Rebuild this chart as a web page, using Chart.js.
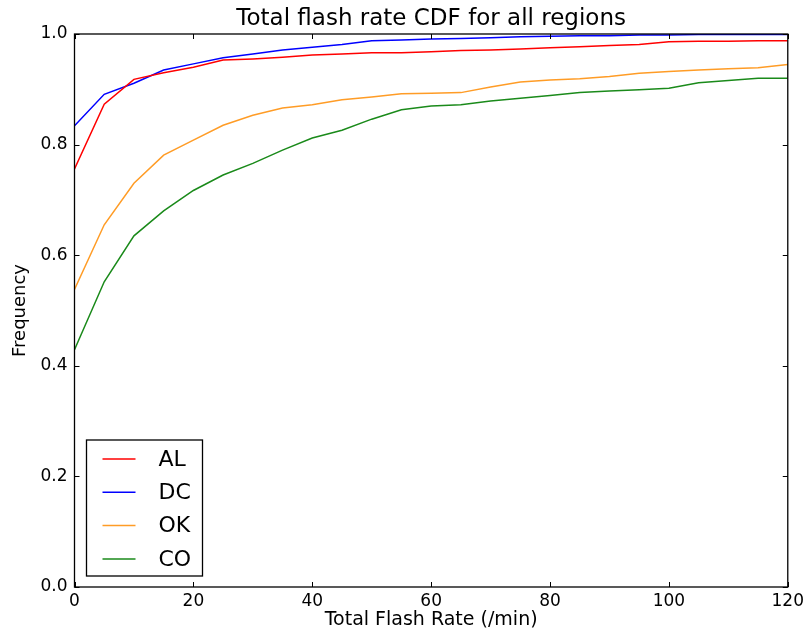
<!DOCTYPE html>
<html>
<head>
<meta charset="utf-8">
<script src="https://cdn.jsdelivr.net/npm/chart.js@4/dist/chart.umd.min.js"></script>
<style>
    html, body { margin: 0; padding: 0; background: #fff; }
    #wrap { width: 808px; height: 638px; }
</style>
</head>
<body>
<div id="wrap"><canvas id="cdf-chart" width="808" height="638"></canvas></div>
<script>
// Flash rate bins (/min) and CDF values per region
const flashRates = [0, 5, 10, 15, 20, 25, 30, 35, 40, 45, 50, 55, 60, 65, 70, 75, 80, 85, 90, 95, 100, 105, 110, 115, 120];
const cdfAL = [0.756, 0.873, 0.918, 0.930, 0.940, 0.953, 0.955, 0.958, 0.962, 0.964, 0.966, 0.966, 0.968, 0.970, 0.971, 0.973, 0.975, 0.977, 0.979, 0.981, 0.986, 0.987, 0.987, 0.988, 0.988];
const cdfDC = [0.834, 0.891, 0.911, 0.935, 0.946, 0.957, 0.964, 0.971, 0.976, 0.981, 0.988, 0.989, 0.991, 0.992, 0.993, 0.995, 0.996, 0.997, 0.997, 0.998, 0.998, 0.999, 0.999, 0.999, 0.999];
const cdfOK = [0.538, 0.655, 0.730, 0.781, 0.808, 0.835, 0.853, 0.866, 0.872, 0.881, 0.886, 0.892, 0.893, 0.894, 0.904, 0.913, 0.917, 0.919, 0.923, 0.929, 0.932, 0.935, 0.937, 0.939, 0.945];
const cdfCO = [0.429, 0.552, 0.635, 0.680, 0.717, 0.745, 0.766, 0.790, 0.812, 0.826, 0.846, 0.863, 0.870, 0.872, 0.879, 0.884, 0.889, 0.894, 0.897, 0.899, 0.902, 0.912, 0.916, 0.920, 0.920];
const regionLabels = ['AL', 'DC', 'OK', 'CO'];
const xTicks = [0, 20, 40, 60, 80, 100, 120];
const yTicks = [0.0, 0.2, 0.4, 0.6, 0.8, 1.0];
const chartTitle = 'Total flash rate CDF for all regions';

const FONT = "'DejaVu Sans', 'Liberation Sans', sans-serif";

function toPoints(values) {
    return values.map((v, i) => ({ x: flashRates[i], y: v }));
}

// title centred over the axes, like matplotlib does
const axesTitlePlugin = {
    id: 'axesTitle',
    afterDraw(chart) {
        const { ctx, chartArea: a } = chart;
        ctx.save();
        ctx.font = '23px ' + FONT;
        ctx.fillStyle = '#000';
        ctx.textAlign = 'center';
        ctx.textBaseline = 'alphabetic';
        ctx.fillText(chartTitle, (a.left + a.right) / 2, a.top - 9);
        ctx.restore();
    }
};

// matplotlib style frame with inward ticks on all four sides
const framePlugin = {
    id: 'frame',
    afterDatasetsDraw(chart) {
        const { ctx, chartArea: a, scales } = chart;
        const len = 5;
        ctx.save();
        ctx.strokeStyle = '#000';
        ctx.lineWidth = 1;
        ctx.beginPath();
        xTicks.forEach(t => {
            const px = Math.round(scales.x.getPixelForValue(t)) + 0.5;
            ctx.moveTo(px, a.bottom); ctx.lineTo(px, a.bottom - len);
            ctx.moveTo(px, a.top); ctx.lineTo(px, a.top + len);
        });
        yTicks.forEach(t => {
            const py = Math.round(scales.y.getPixelForValue(t)) + 0.5;
            ctx.moveTo(a.left, py); ctx.lineTo(a.left + len, py);
            ctx.moveTo(a.right, py); ctx.lineTo(a.right - len, py);
        });
        ctx.stroke();
        ctx.lineWidth = 1.3;
        ctx.strokeRect(a.left, a.top, a.right - a.left, a.bottom - a.top);
        ctx.restore();
    }
};

// legend box in the lower left corner of the axes
const boxLegendPlugin = {
    id: 'boxLegend',
    afterDraw(chart) {
        const { ctx, chartArea: a } = chart;
        const boxW = 116, boxH = 136;
        const left = a.left + 12, top = a.bottom - 11 - boxH;
        ctx.save();
        ctx.fillStyle = '#fff';
        ctx.fillRect(left, top, boxW, boxH);
        ctx.strokeStyle = '#000';
        ctx.lineWidth = 1.3;
        ctx.strokeRect(left, top, boxW, boxH);
        ctx.font = '22px ' + FONT;
        ctx.textBaseline = 'middle';
        ctx.textAlign = 'left';
        chart.data.datasets.forEach((ds, i) => {
            const y = top + 19 + i * 33.3;
            ctx.strokeStyle = ds.borderColor;
            ctx.lineWidth = ds.borderWidth;
            ctx.beginPath();
            ctx.moveTo(left + 16, y);
            ctx.lineTo(left + 49, y);
            ctx.stroke();
            ctx.fillStyle = '#000';
            ctx.fillText(ds.label, left + 72, y + 1);
        });
        ctx.restore();
    }
};

const seriesColors = ['#ff0000', '#0000ff', '#ff9c26', '#1a8a1a'];
const seriesValues = [cdfAL, cdfDC, cdfOK, cdfCO];

const chart = new Chart(document.getElementById('cdf-chart'), {
    type: 'line',
    data: {
        datasets: regionLabels.map((label, i) => ({
            label: label,
            data: toPoints(seriesValues[i]),
            borderColor: seriesColors[i],
            backgroundColor: seriesColors[i],
            borderWidth: 1.5,
            pointRadius: 0,
            tension: 0,
            fill: false
        }))
    },
    options: {
        responsive: false,
        animation: false,
        devicePixelRatio: 1,
        layout: { padding: { left: 0, right: 19, top: 34, bottom: 0 } },
        plugins: {
            legend: { display: false },
            tooltip: { enabled: false },
            title: { display: false }
        },
        scales: {
            x: {
                type: 'linear',
                min: 0,
                max: 120,
                afterBuildTicks: scale => { scale.ticks = xTicks.map(v => ({ value: v })); },
                afterFit: scale => { scale.height = 51; },
                grid: { display: false, drawTicks: false },
                border: { display: false },
                ticks: {
                    color: '#000',
                    padding: 4,
                    maxRotation: 0,
                    font: { family: FONT, size: 17 },
                    callback: v => String(v)
                },
                title: {
                    display: true,
                    text: 'Total Flash Rate (/min)',
                    color: '#000',
                    font: { family: FONT, size: 19 },
                    padding: { top: 0, bottom: 7 }
                }
            },
            y: {
                min: 0,
                max: 1,
                afterBuildTicks: scale => { scale.ticks = yTicks.map(v => ({ value: v })); },
                afterFit: scale => { scale.width = 74.5; },
                grid: { display: false, drawTicks: false },
                border: { display: false },
                ticks: {
                    color: '#000',
                    padding: 7,
                    font: { family: FONT, size: 17 },
                    callback: v => v.toFixed(1)
                },
                title: {
                    display: true,
                    text: 'Frequency',
                    color: '#000',
                    font: { family: FONT, size: 18 },
                    padding: { top: 9.5, bottom: 0 }
                }
            }
        }
    },
    plugins: [framePlugin, boxLegendPlugin, axesTitlePlugin]
});
</script>
</body>
</html>
